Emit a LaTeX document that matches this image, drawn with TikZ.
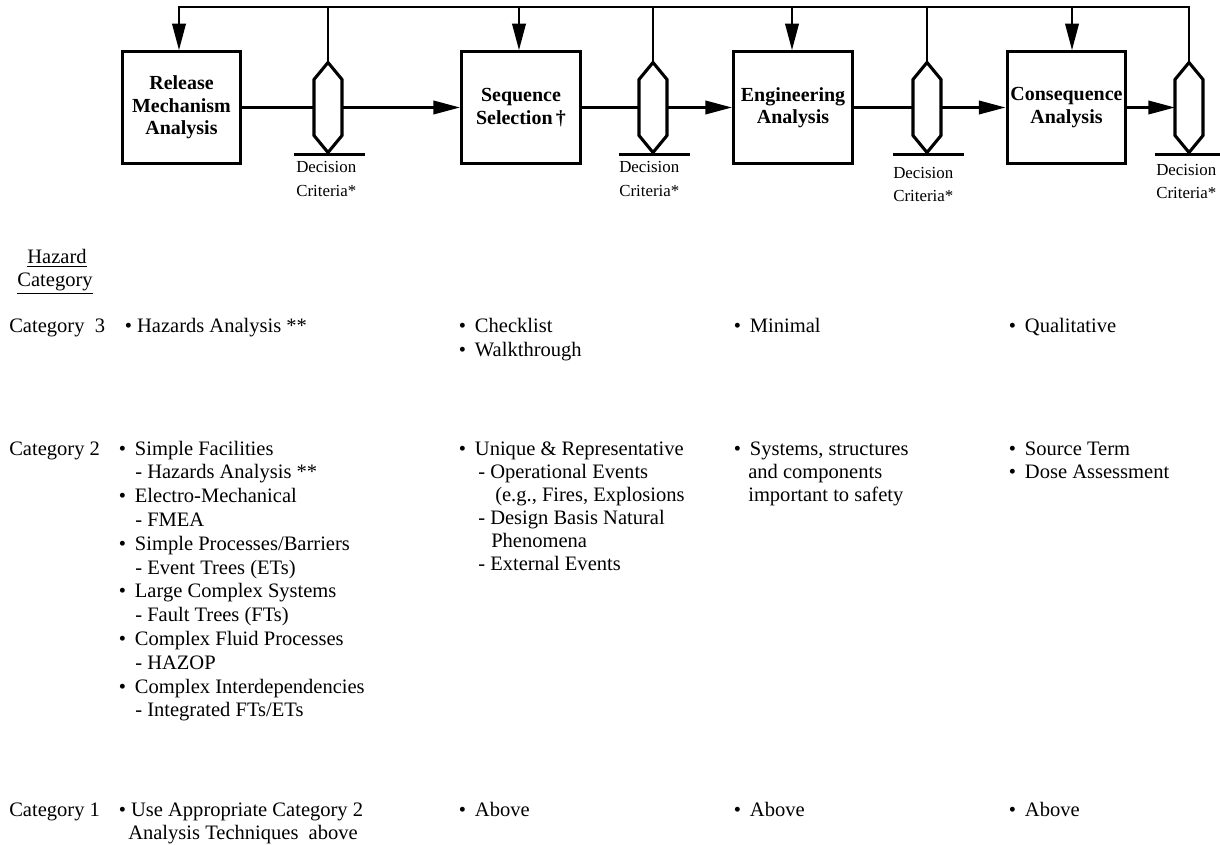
\documentclass[tikz,border=0pt]{standalone}
\usepackage{fontspec}
\setmainfont{Liberation Serif}
\usetikzlibrary{arrows.meta}

\newcommand{\bul}{\makebox[11.5pt][l]{\textbullet}}
% decision gate: name, x, y
\newcommand{\decgate}[3]{%
  \node[gate] (#1) at (#2,#3) {};
  \draw[gateline] (#1.north) -- ([yshift=-0.425cm]#1.north east) -- ([yshift=0.425cm]#1.south east)
     -- (#1.south) -- ([yshift=0.425cm]#1.south west) -- ([yshift=-0.425cm]#1.north west) -- cycle;
  \draw[gateline] ([xshift=-0.85cm,yshift=-0.05cm]#1.south) -- ++(1.775cm,0);
}

\tikzset{
  box/.style={draw, line width=2.2pt, minimum width=2.97cm, minimum height=2.78cm, align=center,
    inner sep=0pt, font=\fontsize{14.2}{16}\selectfont\bfseries},
  gate/.style={minimum width=0.7cm, minimum height=2.25cm, inner sep=0pt, outer sep=0pt},
  gateline/.style={line width=2.2pt, line join=miter},
  flow/.style={line width=1.9pt},
  arr/.style={-{Triangle[length=19pt,width=9.5pt]}},
  txt/.style={anchor=base west, inner sep=0pt, font=\fontsize{14.6}{16.7}\selectfont},
  dec/.style={anchor=base west, inner sep=0pt, font=\fontsize{12}{13}\selectfont},
}

\begin{document}
\begin{tikzpicture}[x=0.025cm, y=-0.025cm]

    \useasboundingbox (0,0) rectangle (1220,845);

    % Steps
    \node[box] (b1) at (181.5,107.5) {Release\\Mechanism\\Analysis};
    \node[box] (b2) at (521,107.5) {Sequence\\Selection\,\dag};
    \node[box] (b3) at (793,107.5) {Engineering\\Analysis};
    \node[box] (b4) at (1066.5,107.5) {Consequence\\Analysis};

    % Decision gates
    \decgate{d1}{328}{107.5}
    \decgate{d2}{653}{107.5}
    \decgate{d3}{927}{107.5}
    \decgate{d4}{1189}{107.5}

    \node[dec] (d1a) at (296,173) {Decision};
    \node[dec] (d1b) at (296,197) {Criteria*};
    \node[dec] (d2a) at (619,173) {Decision};
    \node[dec] (d2b) at (619,197) {Criteria*};
    \node[dec] (d3a) at (893,179) {Decision};
    \node[dec] (d3b) at (893,202) {Criteria*};
    \node[dec] (d4a) at (1156,176) {Decision};
    \node[dec] (d4b) at (1156,199) {Criteria*};

    % Feedback line
    \coordinate (f1) at (179,7);
    \coordinate (f2) at (519,7);
    \coordinate (f3) at (792,7);
    \coordinate (f4) at (1072,7);

    \draw[flow, arr] (d4.north) |- (f1) -- (f1 |- b1.north);
    \draw[flow, arr] (f2) -- (f2 |- b2.north);
    \draw[flow, arr] (f3) -- (f3 |- b3.north);
    \draw[flow, arr] (f4) -- (f4 |- b4.north);
    \draw[flow] (d1.north) -- (d1.north |- f1);
    \draw[flow] (d2.north) -- (d2.north |- f1);
    \draw[flow] (d3.north) -- (d3.north |- f1);

    % Main flow
    \draw[flow] (b1.east) -- (d1.west);
    \draw[flow, arr] (d1.east) -- (b2.west);
    \draw[flow] (b2.east) -- (d2.west);
    \draw[flow, arr] (d2.east) -- (b3.west);
    \draw[flow] (b3.east) -- (d3.west);
    \draw[flow, arr] (d3.east) -- (b4.west);
    \draw[flow, arr] (b4.east) -- (d4.west);

    % Hazard categories
    \node[txt, anchor=base] (hz1) at (57,264) {\underline{Hazard}};
    \node[txt, anchor=base] (hz2) at (55,287) {\underline{Category}};

    \node[txt] (cat3) at (9,333) {Category~ 3};
    \node[txt] (cat2) at (9,455) {Category 2};
    \node[txt] (cat1) at (9,816) {Category 1};

    % Category 3
    \node[txt] (r3c1) at (124.5,333) {\textbullet\ Hazards Analysis **};
    \node[txt] (r3c2a) at (458.5,333) {\bul Checklist};
    \node[txt] (r3c2b) at (458.5,357) {\bul Walkthrough};
    \node[txt] (r3c3) at (733.5,333) {\bul Minimal};
    \node[txt] (r3c4) at (1008.5,333) {\bul Qualitative};

    % Category 2
    \node[txt] (r2c1a) at (118.5,455) {\bul Simple Facilities};
    \node[txt] (r2c1b) at (135,478.8) {- Hazards Analysis **};
    \node[txt] (r2c1c) at (118.5,502.6) {\bul Electro-Mechanical};
    \node[txt] (r2c1d) at (135,526.4) {- FMEA};
    \node[txt] (r2c1e) at (118.5,550.2) {\bul Simple Processes/Barriers};
    \node[txt] (r2c1f) at (135,574) {- Event Trees (ETs)};
    \node[txt] (r2c1g) at (118.5,597.8) {\bul Large Complex Systems};
    \node[txt] (r2c1h) at (135,621.6) {- Fault Trees (FTs)};
    \node[txt] (r2c1i) at (118.5,645.4) {\bul Complex Fluid Processes};
    \node[txt] (r2c1j) at (135,669.2) {- HAZOP};
    \node[txt] (r2c1k) at (118.5,693) {\bul Complex Interdependencies};
    \node[txt] (r2c1l) at (135,716.8) {- Integrated FTs/ETs};

    \node[txt] (r2c2a) at (458.5,455) {\bul Unique \& Representative};
    \node[txt] (r2c2b) at (478,478) {- Operational Events};
    \node[txt] (r2c2c) at (495,501) {(e.g., Fires, Explosions};
    \node[txt] (r2c2d) at (478,524) {- Design Basis Natural};
    \node[txt] (r2c2e) at (491,547) {Phenomena};
    \node[txt] (r2c2f) at (478,570) {- External Events};

    \node[txt] (r2c3a) at (733.5,455) {\bul Systems, structures};
    \node[txt] (r2c3b) at (748,478) {and components};
    \node[txt] (r2c3c) at (748,501) {important to safety};

    \node[txt] (r2c4a) at (1008.5,455) {\bul Source Term};
    \node[txt] (r2c4b) at (1008.5,478) {\bul Dose Assessment};

    % Category 1
    \node[txt] (r1c1a) at (118.5,816) {\textbullet\ Use Appropriate Category 2};
    \node[txt] (r1c1b) at (128,839) {Analysis Techniques\ \ above};
    \node[txt] (r1c2) at (458.5,816) {\bul Above};
    \node[txt] (r1c3) at (733.5,816) {\bul Above};
    \node[txt] (r1c4) at (1008.5,816) {\bul Above};

\end{tikzpicture}
\end{document}
